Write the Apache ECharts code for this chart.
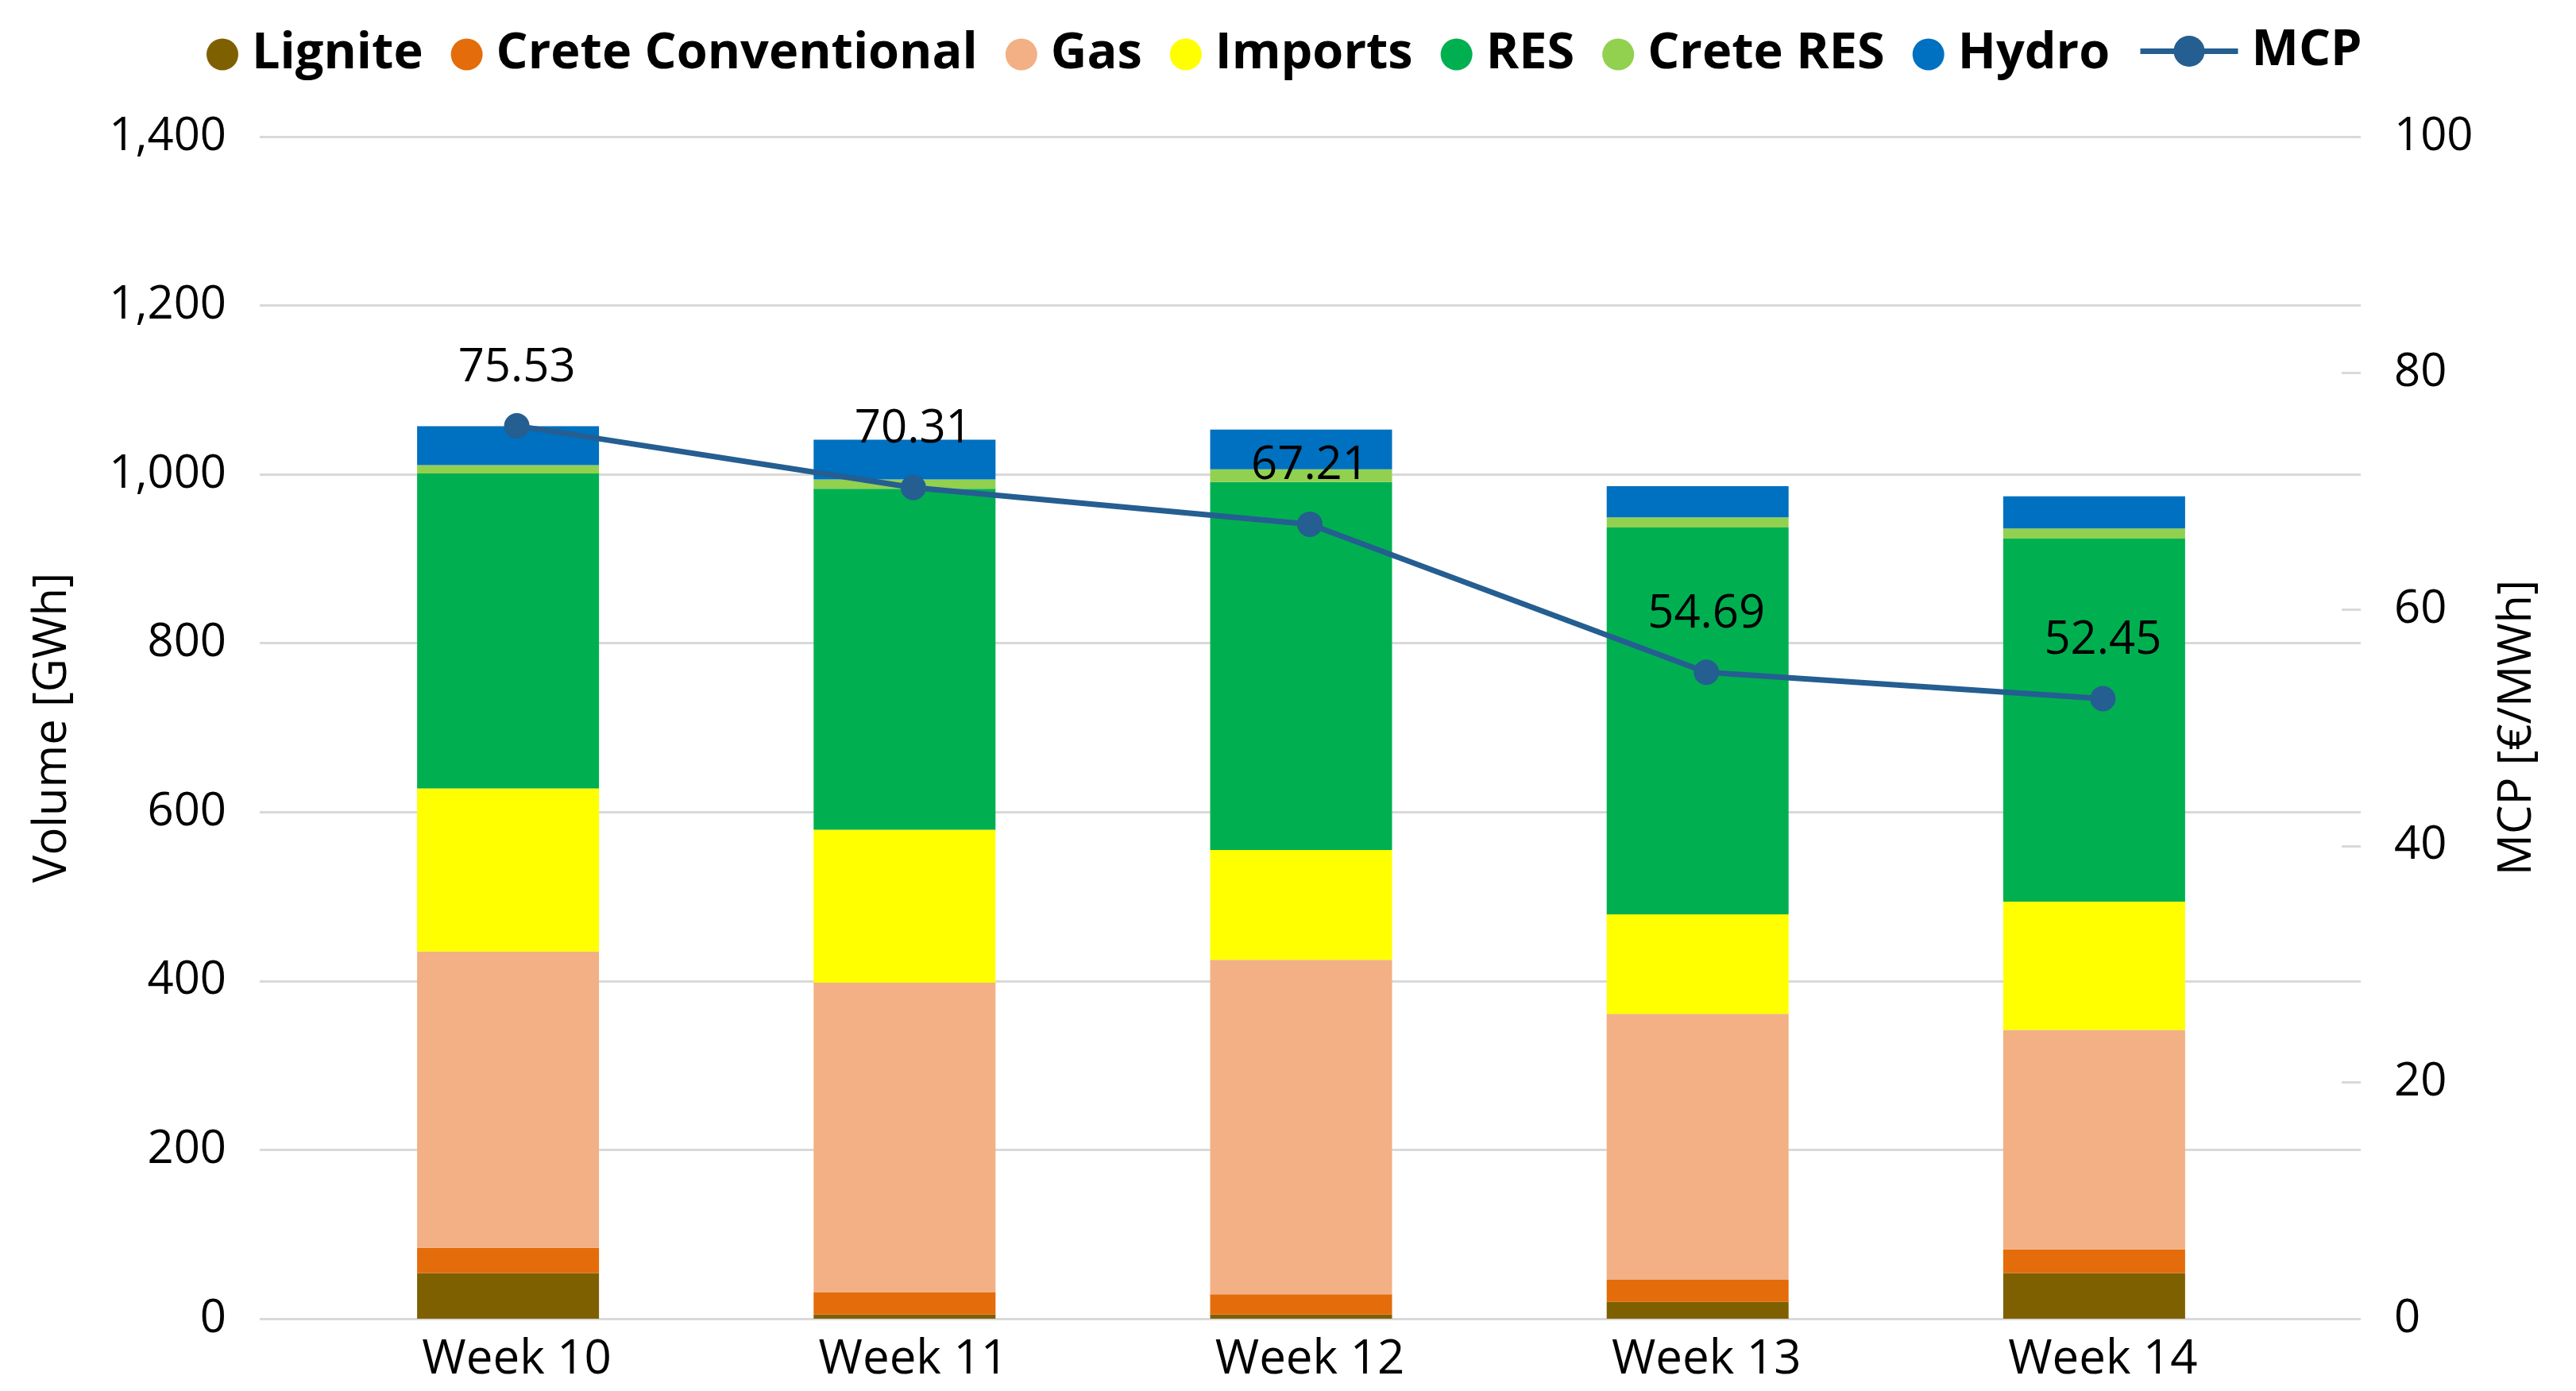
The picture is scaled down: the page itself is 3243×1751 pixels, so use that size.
<!DOCTYPE html>
<html>
<head>
<meta charset="utf-8">
<title>Weekly volumes and MCP</title>
<script src="https://cdn.jsdelivr.net/npm/echarts@6/dist/echarts.min.js"></script>
<style>
  html, body { margin: 0; padding: 0; background: #fff; }
  #chart { width: 3243px; height: 1751px; }
</style>
</head>
<body>
<div id="chart"></div>
<script>
// values (GWh, MCP in €/MWh)
const weeks = ['Week 10', 'Week 11', 'Week 12', 'Week 13', 'Week 14']
const lignite = [54, 5, 5, 20, 54]
const creteConventional = [30, 26, 24, 26, 28]
const gas = [351, 367, 396, 315, 260]
const imports = [193, 181, 130, 118, 152]
const res = [373, 404, 436, 458, 430]
const creteRes = [10, 11, 15, 12, 12]
const hydro = [46, 47, 47, 37, 38]
const mcp = [75.53, 70.31, 67.21, 54.69, 52.45]

const volumeTicks = { min: 0, max: 1400, interval: 200 }
const priceTicks = { min: 0, max: 100, interval: 20 }

const font = '"Open Sans", "Noto Sans", sans-serif'
const gridColor = '#d9d9d9'
const mcpColor = '#255e91'

const stacks = [
  { name: 'Lignite', data: lignite, color: '#7f6000' },
  { name: 'Crete Conventional', data: creteConventional, color: '#e46c0a' },
  { name: 'Gas', data: gas, color: '#f2b084' },
  { name: 'Imports', data: imports, color: '#ffff00' },
  { name: 'RES', data: res, color: '#00b050' },
  { name: 'Crete RES', data: creteRes, color: '#92d050' },
  { name: 'Hydro', data: hydro, color: '#0070c0' },
]

const chart = echarts.init(document.getElementById('chart'), null, { renderer: 'canvas' })

const plotTop = 172
const plotHeight = 1488
const legendText = { fontFamily: font, fontSize: 63, fontWeight: 'bold', color: '#000', padding: [0, 0, 0, 12] }

const option = {
  animation: false,
  textStyle: { fontFamily: font },
  legend: [
    {
      data: stacks.map((s) => s.name),
      left: 255,
      top: 32,
      icon: 'circle',
      itemWidth: 40,
      itemHeight: 40,
      itemGap: 35,
      textStyle: legendText,
    },
    {
      data: ['MCP'],
      left: 2686,
      top: 28,
      itemWidth: 123,
      itemHeight: 49,
      lineStyle: { width: 7 },
      textStyle: legendText,
    },
  ],
  grid: [
    // bars (Excel draws them a touch left of the category centre)
    { left: 390, right: 357, top: plotTop, height: plotHeight },
    // wider frame that carries gridlines and axis labels
    { left: 327, right: 271, top: plotTop, height: plotHeight },
    // price line and category labels
    { left: 401, right: 346, top: plotTop, height: plotHeight },
  ],
  xAxis: [
    { type: 'category', gridIndex: 0, data: weeks, show: false },
    { type: 'category', gridIndex: 1, data: weeks, show: false },
    {
      type: 'category',
      gridIndex: 2,
      data: weeks,
      axisLine: { show: false },
      axisTick: { show: false },
      axisLabel: { color: '#000', fontSize: 60, fontFamily: font, margin: 22 },
    },
  ],
  yAxis: [
    { type: 'value', gridIndex: 0, ...volumeTicks, show: false, splitLine: { show: false } },
    {
      type: 'value',
      gridIndex: 1,
      position: 'left',
      ...volumeTicks,
      name: 'Volume [GWh]',
      nameLocation: 'middle',
      nameRotate: 90,
      nameGap: 232,
      nameTextStyle: { color: '#000', fontSize: 58, fontFamily: font },
      axisLine: { show: false },
      axisTick: { show: false },
      axisLabel: {
        color: '#000',
        fontSize: 58,
        fontFamily: font,
        margin: 42,
        formatter: (v) => v.toLocaleString('en-US'),
      },
      splitLine: { lineStyle: { color: gridColor, width: 3 } },
    },
    {
      type: 'value',
      gridIndex: 1,
      position: 'right',
      ...priceTicks,
      name: 'MCP [€/MWh]',
      nameLocation: 'middle',
      nameRotate: 90,
      nameGap: 168,
      nameTextStyle: { color: '#000', fontSize: 58, fontFamily: font },
      axisLine: { show: false },
      axisTick: { show: true, inside: true, length: 24, lineStyle: { color: gridColor, width: 3 } },
      axisLabel: { color: '#000', fontSize: 58, fontFamily: font, margin: 42 },
      splitLine: { show: false },
    },
    { type: 'value', gridIndex: 2, ...priceTicks, show: false, splitLine: { show: false } },
  ],
  series: [
    ...stacks.map((s) => ({
      name: s.name,
      type: 'bar',
      stack: 'volume',
      xAxisIndex: 0,
      yAxisIndex: 0,
      barWidth: 229,
      itemStyle: { color: s.color },
      data: s.data,
    })),
    {
      name: 'MCP',
      type: 'line',
      xAxisIndex: 2,
      yAxisIndex: 3,
      data: mcp,
      z: 5,
      symbol: 'circle',
      symbolSize: 32,
      itemStyle: { color: mcpColor },
      lineStyle: { color: mcpColor, width: 7 },
      label: {
        show: true,
        position: 'top',
        distance: 28,
        color: '#000',
        fontSize: 58,
        fontFamily: font,
        formatter: (p) => p.value.toFixed(2),
      },
    },
  ],
}

chart.setOption(option)
</script>
</body>
</html>
